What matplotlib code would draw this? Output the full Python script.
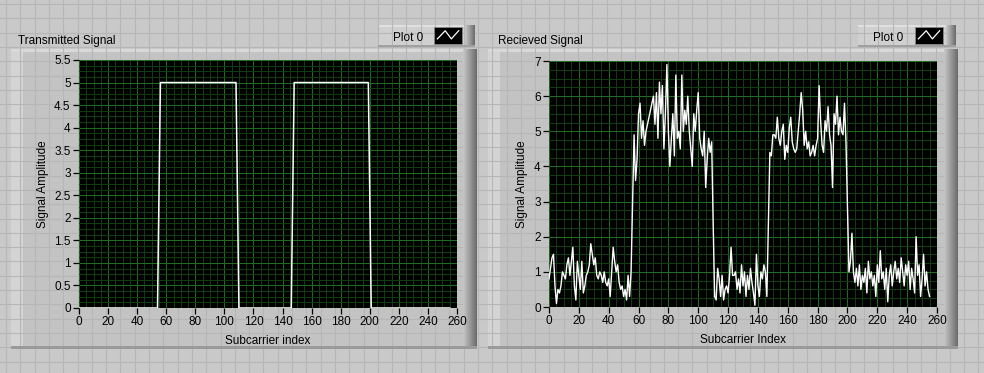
import numpy as np
import matplotlib
matplotlib.use("Agg")
import matplotlib.pyplot as plt
from matplotlib.ticker import MultipleLocator, FuncFormatter
from matplotlib.patches import Rectangle

plt.rcParams['font.family'] = ['Liberation Sans', 'DejaVu Sans']

# transmitted signal (subcarrier magnitudes)
transmitted = ([0.0] * 55 + [2.5] + [5.0] * 53 + [2.5] + [0.0] * 37
               + [2.5] + [5.0] * 52 + [2.5] + [0.0] * 55)

# received signal
received = [
    0.8, 1.1, 1.4, 1.5, 0.6, 0.1, 0.5, 0.4, 0.6, 1.0, 0.9, 0.8, 1.2, 1.4, 0.9, 1.3,
    1.7, 0.6, 0.2, 1.3, 0.9, 0.5, 1.3, 0.4, 0.6, 0.9, 1.0, 1.2, 1.8, 1.5, 1.2, 1.4,
    0.9, 0.8, 1.0, 0.9, 0.7, 1.0, 0.7, 0.6, 0.8, 0.3, 1.0, 1.7, 1.3, 1.0, 1.2, 0.7,
    0.5, 0.6, 0.3, 0.5, 0.2, 0.9, 0.3, 1.0, 3.0, 4.9, 3.6, 4.2, 5.5, 5.8, 4.8, 5.3,
    4.6, 5.0, 5.2, 5.4, 5.6, 5.8, 6.0, 5.2, 6.1, 4.8, 6.4, 5.5, 6.3, 4.5, 5.5, 6.9,
    5.0, 4.0, 4.8, 5.5, 4.3, 6.6, 4.8, 5.0, 4.5, 6.6, 5.0, 5.6, 5.2, 6.0, 5.0, 4.5,
    4.0, 5.5, 5.0, 5.6, 6.1, 4.8, 4.5, 4.3, 5.0, 3.4, 4.2, 4.8, 4.4, 4.7, 2.4, 0.3,
    0.2, 1.1, 0.8, 0.3, 0.9, 0.2, 0.5, 0.6, 0.4, 0.9, 1.7, 0.9, 0.9, 1.0, 0.5, 0.8,
    0.4, 1.2, 0.6, 1.0, 0.3, 0.9, 0.5, 1.1, 0.7, 0.4, 0.05, 1.5, 0.6, 0.3, 1.0, 0.8,
    1.2, 1.0, 0.3, 2.4, 4.4, 4.3, 4.9, 4.9, 4.8, 5.4, 4.8, 4.6, 5.0, 5.2, 4.2, 4.6,
    4.4, 5.1, 5.4, 4.7, 4.5, 4.4, 4.5, 5.0, 5.5, 6.1, 5.6, 4.6, 5.0, 4.5, 4.7, 4.3,
    4.4, 4.6, 4.3, 4.6, 4.8, 6.3, 5.3, 4.6, 4.4, 5.3, 5.0, 5.7, 4.9, 4.6, 3.4, 5.5,
    5.2, 6.0, 4.9, 5.4, 5.0, 4.9, 5.8, 4.7, 2.8, 1.0, 1.3, 2.1, 1.0, 0.7, 1.1, 0.6,
    1.2, 0.5, 0.9, 0.7, 1.1, 0.4, 1.3, 0.8, 1.0, 0.6, 0.9, 0.3, 1.2, 0.7, 1.6, 0.8,
    1.0, 0.5, 1.1, 0.15, 0.9, 1.2, 0.6, 1.0, 1.3, 0.8, 1.1, 0.7, 1.4, 1.0, 0.6, 1.2,
    0.9, 1.3, 0.5, 1.1, 0.8, 0.4, 2.0, 0.9, 1.2, 0.3, 0.8, 1.5, 0.6, 1.0, 0.5, 0.3,
]

titles = ["Transmitted Signal", "Recieved Signal"]
xlabels = ["Subcarrier index", "Subcarrier Index"]
ylabel = "Signal Amplitude"
legend_label = "Plot 0"

FS = 8.5
W, H = 984, 373
fig = plt.figure(figsize=(W / 100, H / 100), dpi=100)
fig.patch.set_facecolor("#c9c9c9")

"""Panel background (LabVIEW front panel look)"""
bg = fig.add_axes([0, 0, 1, 1], zorder=-5)
bg.set_xlim(0, W)
bg.set_ylim(H, 0)
bg.axis("off")
for gx in np.arange(6, W, 14.3):
    bg.axvline(gx, color="#b6b6b6", lw=0.8)
for gy in np.arange(4, H, 14.3):
    bg.axhline(gy, color="#b6b6b6", lw=0.8)

shade = np.linspace(0.78, 0.42, 32).reshape(1, -1)


def frame(x0, y0, x1, y1):
    bg.add_patch(Rectangle((x0, y0), x1 - x0, y1 - y0, fc="#c3c3c3", ec="none", zorder=1))
    bg.add_patch(Rectangle((x0, y0), 12, y1 - y0, fc="#d4d4d4", ec="none", zorder=1))
    bg.add_patch(Rectangle((x0, y0), x1 - x0, 3, fc="#d9d9d9", ec="none", zorder=1))
    bg.imshow(shade, cmap="gray", vmin=0, vmax=1, aspect="auto",
              extent=(x1 - 14, x1, y1, y0), zorder=2)
    bg.add_patch(Rectangle((x0, y1 - 3), x1 - x0, 3, fc="#9a9a9a", ec="none", zorder=2))


def legend_box(x0, y0, x1, y1):
    bg.add_patch(Rectangle((x0, y0), x1 - x0, y1 - y0, fc="#d0d0d0", ec="none", zorder=1))
    bg.add_patch(Rectangle((x0, y0), x1 - x0, 2, fc="#e0e0e0", ec="none", zorder=1))
    bg.imshow(shade, cmap="gray", vmin=0, vmax=1, aspect="auto",
              extent=(x1 - 10, x1, y1, y0), zorder=2)
    bg.add_patch(Rectangle((x0, y1 - 2), x1 - x0, 2, fc="#a0a0a0", ec="none", zorder=2))
    sx0, sx1, sy0, sy1 = x1 - 41, x1 - 13, y0 + 2, y1 - 3
    bg.add_patch(Rectangle((sx0, sy0), sx1 - sx0, sy1 - sy0, fc="black", ec="#888888", lw=0.6, zorder=3))
    fx = np.array([0.12, 0.4, 0.62, 0.88])
    fy = np.array([0.7, 0.22, 0.7, 0.22])
    bg.plot(sx0 + fx * (sx1 - sx0), sy0 + fy * (sy1 - sy0), color="white", lw=0.9, zorder=4)
    bg.text(x0 + 15, y1 - 6, legend_label, fontsize=FS, va="baseline", ha="left", zorder=4)


frame(11, 49, 477, 349)
frame(488, 49, 958, 349)
legend_box(378, 25, 475, 47)
legend_box(858, 25, 956, 47)
fig.text(18 / W, 1 - 44 / H, titles[0], fontsize=FS, va="baseline")
fig.text(498 / W, 1 - 44 / H, titles[1], fontsize=FS, va="baseline")

"""Graphs"""


def style(ax, ymax, ystep, xlab, ylab_x):
    ax.set_facecolor("black")
    for s in ax.spines.values():
        s.set_visible(False)
    ax.set_xlim(0, 260)
    ax.set_ylim(0, ymax)
    ax.xaxis.set_major_locator(MultipleLocator(20))
    ax.xaxis.set_minor_locator(MultipleLocator(5))
    ax.yaxis.set_major_locator(MultipleLocator(ystep))
    ax.yaxis.set_minor_locator(MultipleLocator(ystep / 4))
    ax.yaxis.set_major_formatter(FuncFormatter(lambda v, p: "%g" % v))
    ax.grid(which="major", color="#216a21", lw=0.75)
    ax.grid(which="minor", color="#123d12", lw=0.7)
    ax.set_axisbelow(True)
    ax.tick_params(which="major", length=4, width=0.9, color="black", labelsize=FS, pad=2)
    ax.tick_params(which="minor", length=0)
    ax.set_xlabel(xlab, fontsize=FS)
    ax.xaxis.set_label_coords(0.5, -0.11)
    ax.set_ylabel(ylabel, fontsize=FS)
    ax.yaxis.set_label_coords(ylab_x, 0.5)


ax1 = fig.add_axes([79 / W, 1 - 308 / H, 378 / W, 248 / H])
style(ax1, 5.5, 0.5, xlabels[0], -0.08)
ax1.plot(np.arange(len(transmitted)), transmitted, color="white", lw=1.1)

ax2 = fig.add_axes([549 / W, 1 - 307 / H, 388 / W, 246 / H])
style(ax2, 7, 1, xlabels[1], -0.055)
ax2.plot(np.arange(len(received)), received, color="white", lw=1.0)

fig.savefig("out.png", dpi=100, facecolor=fig.get_facecolor())
